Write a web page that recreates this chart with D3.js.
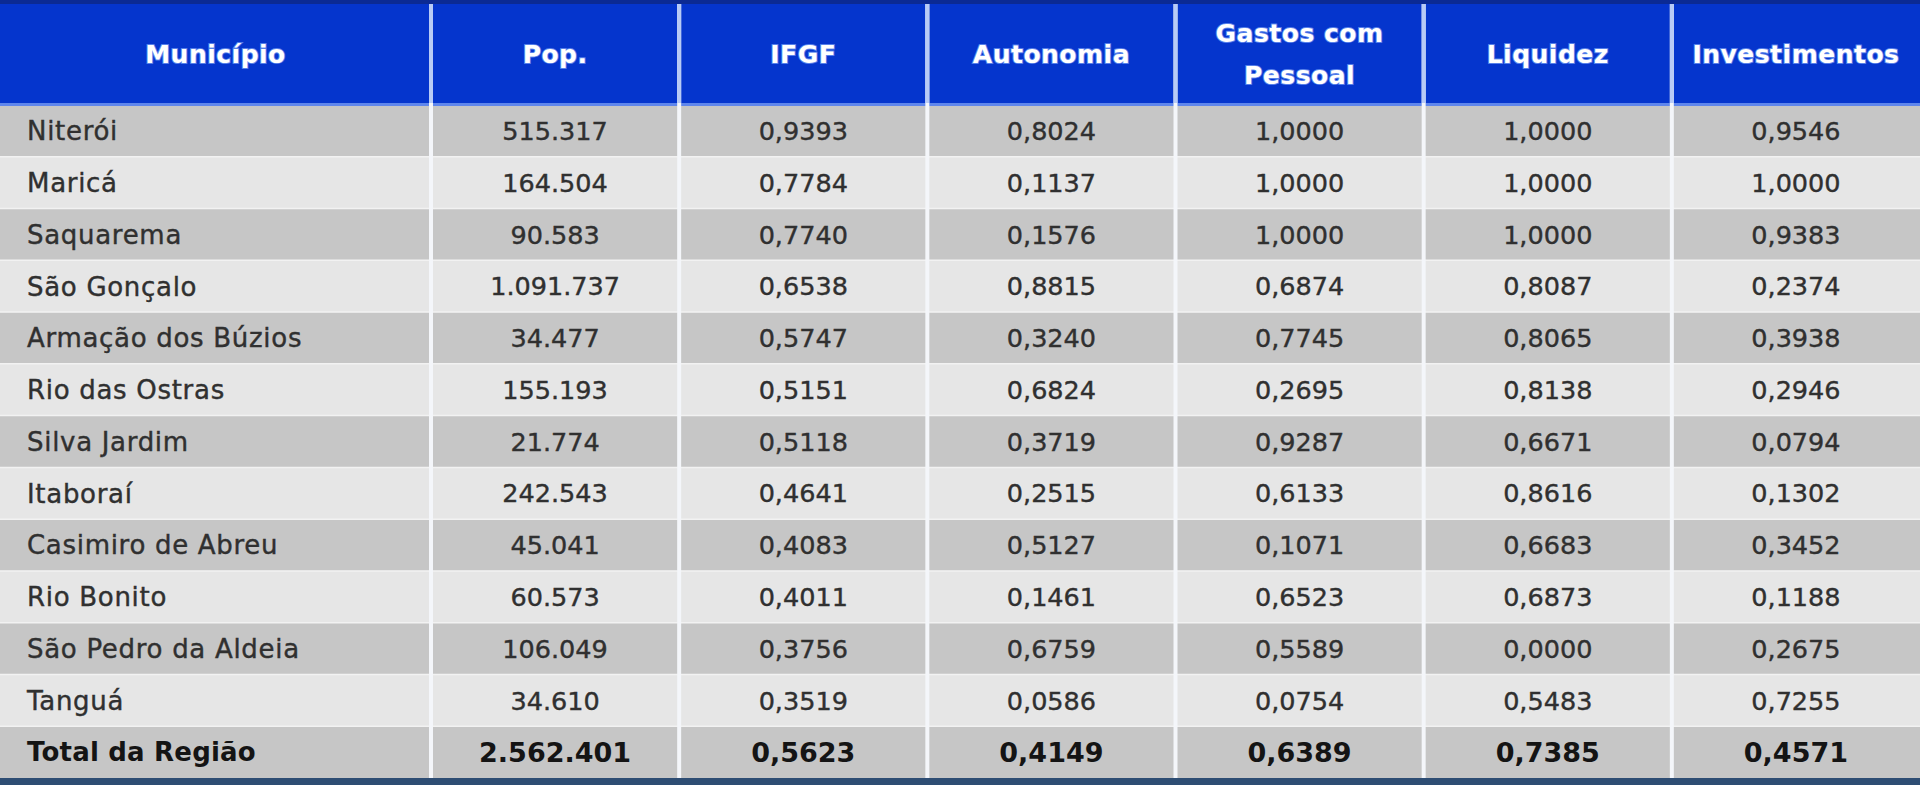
<!DOCTYPE html>
<html><head><meta charset="utf-8">
<script src="https://cdn.jsdelivr.net/npm/d3@7"></script>
<style>html,body{margin:0;padding:0;background:#fff;overflow:hidden}</style>
</head><body><svg id="c" width="1920" height="785"></svg>
<script>
const headers = ["Município","Pop.","IFGF","Autonomia","Gastos com\nPessoal","Liquidez","Investimentos"];
const municipios = ["Niterói","Maricá","Saquarema","São Gonçalo","Armação dos Búzios","Rio das Ostras","Silva Jardim","Itaboraí","Casimiro de Abreu","Rio Bonito","São Pedro da Aldeia","Tanguá","Total da Região"];
const populacao = ["515.317","164.504","90.583","1.091.737","34.477","155.193","21.774","242.543","45.041","60.573","106.049","34.610","2.562.401"];
const ifgf = ["0,9393","0,7784","0,7740","0,6538","0,5747","0,5151","0,5118","0,4641","0,4083","0,4011","0,3756","0,3519","0,5623"];
const autonomia = ["0,8024","0,1137","0,1576","0,8815","0,3240","0,6824","0,3719","0,2515","0,5127","0,1461","0,6759","0,0586","0,4149"];
const gastosPessoal = ["1,0000","1,0000","1,0000","0,6874","0,7745","0,2695","0,9287","0,6133","0,1071","0,6523","0,5589","0,0754","0,6389"];
const liquidez = ["1,0000","1,0000","1,0000","0,8087","0,8065","0,8138","0,6671","0,8616","0,6683","0,6873","0,0000","0,5483","0,7385"];
const investimentos = ["0,9546","1,0000","0,9383","0,2374","0,3938","0,2946","0,0794","0,1302","0,3452","0,1188","0,2675","0,7255","0,4571"];

const dataCols = [populacao, ifgf, autonomia, gastosPessoal, liquidez, investimentos];

const W = 1920, H = 785;
const svg = d3.select("#c");
const headBottom = 105, tableBottom = 778;
const firstColW = 431;

const y = d3.scaleBand().domain(municipios).range([headBottom, tableBottom]);
const xData = d3.scaleBand().domain(d3.range(dataCols.length)).range([firstColW, W]);
const colX = i => i === 0 ? 0 : xData(i - 1);
const colW = i => i === 0 ? firstColW : xData.bandwidth();

// header background
svg.append("rect").attr("x",0).attr("y",0).attr("width",W).attr("height",headBottom).attr("fill","#0535cd");
svg.append("rect").attr("x",0).attr("y",0).attr("width",W).attr("height",4).attr("fill","#0b2a94");

// rows
svg.selectAll("rect.row").data(municipios).join("rect")
  .attr("class","row").attr("x",0).attr("y",d=>y(d)).attr("width",W).attr("height",y.bandwidth())
  .attr("fill",(d,i)=> i%2===0 ? "#c6c6c6" : "#e6e6e6");
svg.selectAll("line.rsep").data(municipios.slice(1)).join("line")
  .attr("class","rsep").attr("x1",0).attr("x2",W).attr("y1",d=>y(d)).attr("y2",d=>y(d))
  .attr("stroke","#f2f2f2").attr("stroke-width",1.5);

// header bottom line
svg.append("rect").attr("x",0).attr("y",headBottom-2).attr("width",W).attr("height",3).attr("fill","#5f86ec");

// bottom strip
svg.append("rect").attr("x",0).attr("y",tableBottom).attr("width",W).attr("height",H-tableBottom).attr("fill","#2e4d73");

// vertical separators
const seps = d3.range(1, headers.length);
svg.selectAll("rect.vsep").data(seps).join("rect")
  .attr("class","vsep").attr("x",d=>colX(d)-2).attr("y",4).attr("width",4).attr("height",tableBottom-4)
  .attr("fill","#f4f6fa");
svg.selectAll("rect.vseph").data(seps).join("rect")
  .attr("class","vseph").attr("x",d=>colX(d)-2).attr("y",4).attr("width",4).attr("height",headBottom-6)
  .attr("fill","#b8cbf6");

// header text
const hg = svg.selectAll("text.h").data(headers).join("text")
  .attr("class","h")
  .attr("x",(d,i)=>colX(i)+colW(i)/2)
  .attr("text-anchor","middle")
  .attr("font-family","'DejaVu Sans', Verdana, sans-serif")
  .attr("font-weight","bold")
  .attr("font-size","25px")
  .attr("letter-spacing","0.5px")
  .attr("fill","#ffffff")
  .attr("stroke","#8fb4ff").attr("stroke-width",2).attr("stroke-opacity",0.6)
  .attr("paint-order","stroke");
hg.each(function(d){
  const lines = d.split("\n");
  const t = d3.select(this);
  const mid = (headBottom + 2) / 2;
  lines.forEach((ln,k)=>{
    t.append("tspan").attr("x", t.attr("x"))
     .attr("y", mid + (k - (lines.length-1)/2) * 42)
     .attr("dy","0.36em").text(ln);
  });
});

// body text
const isTotal = d => d === municipios[municipios.length-1];
svg.selectAll("text.m").data(municipios).join("text")
  .attr("class","m").attr("x",27).attr("y",d=>y(d)+y.bandwidth()/2).attr("dy","0.36em")
  .attr("font-family","'DejaVu Sans', Verdana, sans-serif")
  .attr("font-size",d=>isTotal(d)?"26px":"26px")
  .attr("font-weight",d=>isTotal(d)?"bold":"normal")
  .attr("letter-spacing",d=>isTotal(d)?"0.2px":"0.7px")
  .attr("fill",d=>isTotal(d)?"#141414":"#303030")
  .attr("stroke",d=>isTotal(d)?"none":"#303030").attr("stroke-width",0.4)
  .text(d=>d);

dataCols.forEach((col,ci)=>{
  svg.selectAll("text.v"+ci).data(col).join("text")
    .attr("class","v"+ci)
    .attr("x", xData(ci) + xData.bandwidth()/2)
    .attr("y",(d,i)=>y(municipios[i])+y.bandwidth()/2).attr("dy","0.36em")
    .attr("text-anchor","middle")
    .attr("font-family","'DejaVu Sans', Verdana, sans-serif")
    .attr("font-size",(d,i)=>isTotal(municipios[i])?"27px":"25.5px")
    .attr("font-weight",(d,i)=>isTotal(municipios[i])?"bold":"normal")
    .attr("fill",(d,i)=>isTotal(municipios[i])?"#141414":"#303030")
    .attr("stroke",(d,i)=>isTotal(municipios[i])?"none":"#303030").attr("stroke-width",0.4)
    .text(d=>d);
});
</script>
</body></html>
